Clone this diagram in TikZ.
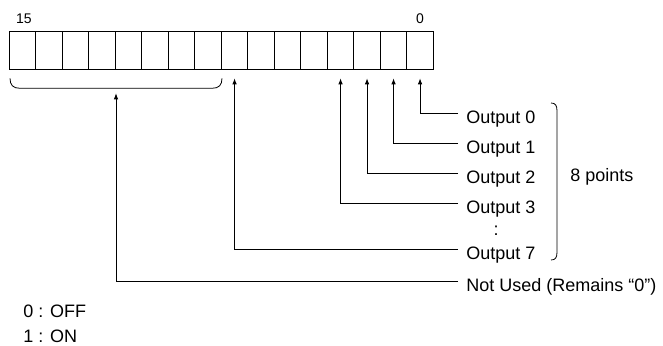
\documentclass[tikz,border=0pt]{standalone}
\usepackage{fontspec}
\setmainfont{Liberation Sans}
\usetikzlibrary{arrows.meta}
\begin{document}
\begin{tikzpicture}[x=1pt,y=-1pt,
  line width=0.8pt,
  cell/.style={draw, minimum width=26.5pt, minimum height=38.3pt, inner sep=0pt, outer sep=0pt},
  lab/.style={anchor=west, inner xsep=8pt, inner ysep=0pt, text height=19.4pt, text depth=0pt, font=\fontsize{18}{22}\selectfont},
  txt/.style={inner sep=0pt, font=\fontsize{18}{22}\selectfont},
  smalltxt/.style={inner sep=0pt, font=\fontsize{14}{17}\selectfont},
  arr/.style={-{Latex[length=6pt,width=4.5pt]}},
]
\useasboundingbox (0,0) rectangle (663,345);
\foreach \i in {0,...,15} \node[cell] (b\i) at ({433.3-26.5*(\i+0.5)},50.15) {};
\node[smalltxt, anchor=base] (t15) at (24,23.3) {15};
\node[smalltxt, anchor=base] (t0) at (420,23.3) {0};
% bottom brace
\draw (10,78.3) .. controls (10,85) and (13,88.3) .. (20,88.3) -- (212,88.3) .. controls (219,88.3) and (222,85) .. (222,78.3);
\coordinate (bc) at (116,88.3);
% labels
\node[lab] (o0) at (458,113.3) {Output 0};
\node[lab] (o1) at (458,143.3) {Output 1};
\node[lab] (o2) at (458,173.3) {Output 2};
\node[lab] (o3) at (458,203.3) {Output 3};
\node[txt] (dots) at (496,231) {:};
\node[lab] (o7) at (458,249.3) {Output 7};
\node[lab] (nu) at (458,281.7) {Not Used (Remains “0”)};
\node[txt, anchor=base west] (pts) at (570,181.7) {8 points};
\node[txt, anchor=base west] (off) at (23,317.3) {0 : OFF};
\node[txt, anchor=base west] (on) at (23,342.7) {1 : ON};
% right brace
\draw (551,103) .. controls (555.5,103) and (557,105.5) .. (557,111) -- (557,252) .. controls (557,257.5) and (555.5,260) .. (551,260);
% connectors
\draw[arr] (o0.west) -| ([yshift=-9pt]b0.south);
\draw[arr] (o1.west) -| ([yshift=-9pt]b1.south);
\draw[arr] (o2.west) -| ([yshift=-9pt]b2.south);
\draw[arr] (o3.west) -| ([yshift=-9pt]b3.south);
\draw[arr] (o7.west) -| ([yshift=-9pt]b7.south);
\draw[arr] (nu.west) -| ([yshift=-5pt]bc);
\end{tikzpicture}
\end{document}
